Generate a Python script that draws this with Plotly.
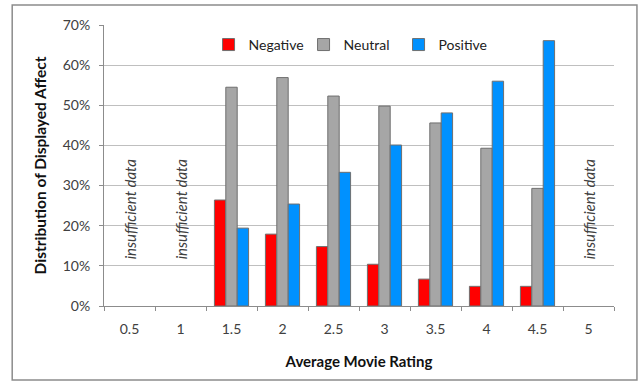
import plotly.graph_objects as go

ratings = ["0.5", "1", "1.5", "2", "2.5", "3", "3.5", "4", "4.5", "5"]
negative = [None, None, 26.4, 17.9, 14.8, 10.4, 6.7, 4.9, 4.9, None]
neutral = [None, None, 54.5, 56.9, 52.3, 49.8, 45.6, 39.3, 29.3, None]
positive = [None, None, 19.4, 25.4, 33.3, 40.1, 48.1, 56.0, 66.1, None]
no_data = ["0.5", "1", "5"]
y_ticks = [0, 10, 20, 30, 40, 50, 60, 70]

font_family = "Lato, 'Open Sans', sans-serif"
outline = dict(color="#6f6f6f", width=1)

fig = go.Figure()
for name, vals, col in [("Negative", negative, "#ff0000"),
                        ("Neutral", neutral, "#a6a6a6"),
                        ("Positive", positive, "#0091ff")]:
    fig.add_trace(go.Bar(x=ratings, y=vals, name=name,
                         marker=dict(color=col, line=outline)))

# category positions are given by index so numeric-looking labels are not misread
for r in no_data:
    fig.add_annotation(x=ratings.index(r), y=24.2, text="<i>insufficient data</i>", textangle=-90,
                       showarrow=False, font=dict(size=15, color="#404040", family=font_family))

fig.add_shape(type="rect", xref="paper", yref="paper",
              x0=-0.18, x1=1.045, y0=-0.263, y1=1.071,
              line=dict(color="#8c8c8c", width=1.5), fillcolor="rgba(0,0,0,0)", layer="below")

fig.update_layout(
    width=639, height=382,
    margin=dict(l=104, r=25, t=25, b=76, autoexpand=False),
    paper_bgcolor="white", plot_bgcolor="white",
    barmode="group", bargap=0.33, bargroupgap=0,
    font=dict(family=font_family, size=14, color="#404040"),
    showlegend=True,
    legend=dict(orientation="h", x=0.205, y=0.929, xanchor="left", yanchor="middle",
                bgcolor="rgba(0,0,0,0)", font=dict(size=14, color="#222222"),
                entrywidth=50, itemwidth=30, traceorder="normal"),
    xaxis=dict(type="category", categoryorder="array", categoryarray=ratings,
               range=[-0.5, 9.5],
               showline=True, linecolor="#8c8c8c", linewidth=1,
               ticks="outside", tickson="boundaries", ticklen=4, tickcolor="#8c8c8c",
               ticklabelstandoff=10,
               showgrid=False, tickfont=dict(size=14, color="#404040"),
               title=dict(text="<b>Average Movie Rating</b>", font=dict(size=15, color="#111111"),
                          standoff=20)),
    yaxis=dict(range=[0, 70], tickvals=y_ticks, ticktext=[f"{v}%" for v in y_ticks],
               showline=True, linecolor="#8c8c8c", linewidth=1,
               ticks="outside", ticklen=4, tickcolor="#8c8c8c",
               ticklabelstandoff=6,
               showgrid=True, gridcolor="#bfbfbf", gridwidth=1, zeroline=False,
               tickfont=dict(size=14, color="#404040"),
               title=dict(text="<b>Distribution of Displayed Affect</b>",
                          font=dict(size=15.5, color="#111111"), standoff=12)),
)

fig.write_html("out.html")
